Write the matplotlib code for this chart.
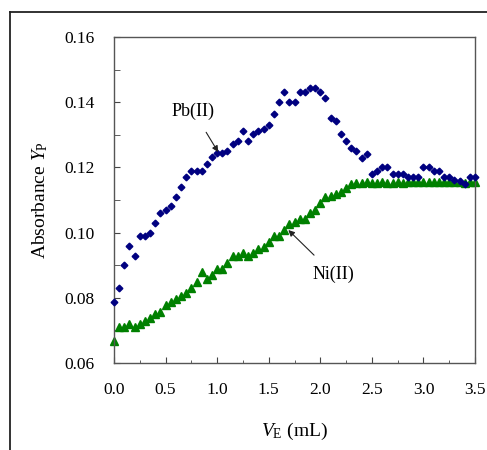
import matplotlib
matplotlib.use('Agg')
import numpy as np
import matplotlib.pyplot as plt
from matplotlib.lines import Line2D
from matplotlib.ticker import MultipleLocator, FormatStrFormatter

plt.rcParams['font.family'] = ['Liberation Serif', 'DejaVu Serif']
plt.rcParams['mathtext.fontset'] = 'custom'
plt.rcParams['mathtext.it'] = 'Liberation Serif:italic'
plt.rcParams['mathtext.rm'] = 'Liberation Serif'

# titrant volume, every 0.05 mL
ve = np.round(np.arange(71) * 0.05, 2)

pb = [0.0788, 0.0831, 0.0901, 0.0959, 0.0929, 0.0991, 0.0991, 0.1000, 0.1029, 0.1059,
      0.1069, 0.1082, 0.1110, 0.1141, 0.1172, 0.1189, 0.1189, 0.1189, 0.1210, 0.1231,
      0.1243, 0.1243, 0.1251, 0.1272, 0.1281, 0.1313, 0.1281, 0.1302, 0.1313, 0.1318,
      0.1330, 0.1363, 0.1402, 0.1432, 0.1402, 0.1402, 0.1432, 0.1432, 0.1443, 0.1443,
      0.1432, 0.1412, 0.1351, 0.1343, 0.1302, 0.1281, 0.1260, 0.1251, 0.1230, 0.1241,
      0.1180, 0.1189, 0.1202, 0.1202, 0.1180, 0.1180, 0.1180, 0.1172, 0.1172, 0.1172,
      0.1202, 0.1202, 0.1190, 0.1190, 0.1172, 0.1172, 0.1162, 0.1158, 0.1149, 0.1172,
      0.1172]

ni = [0.0667, 0.0711, 0.0711, 0.0719, 0.0711, 0.0719, 0.0730, 0.0739, 0.0749, 0.0757,
      0.0778, 0.0788, 0.0796, 0.0806, 0.0816, 0.0829, 0.0849, 0.0878, 0.0858, 0.0870,
      0.0887, 0.0887, 0.0908, 0.0928, 0.0928, 0.0938, 0.0928, 0.0938, 0.0949, 0.0957,
      0.0970, 0.0990, 0.0990, 0.1008, 0.1026, 0.1033, 0.1041, 0.1041, 0.1059, 0.1069,
      0.1090, 0.1108, 0.1112, 0.1118, 0.1125, 0.1136, 0.1149, 0.1151, 0.1151, 0.1156,
      0.1151, 0.1151, 0.1156, 0.1151, 0.1151, 0.1156, 0.1151, 0.1156, 0.1156, 0.1156,
      0.1156, 0.1156, 0.1156, 0.1156, 0.1156, 0.1156, 0.1156, 0.1156, 0.1151, 0.1156,
      0.1156]

fig = plt.figure(figsize=(4.87, 4.5), dpi=100)
ax = fig.add_axes([0.2341, 0.1933, 0.7413, 0.7244])

ax.plot(ve, pb, ls='none', marker='D', ms=3.4, color='#000080', zorder=3, clip_on=False)
ax.plot(ve, ni, ls='none', marker='^', ms=5.8, color='#008000', zorder=2, clip_on=False)

ax.set_xlim(0, 3.5)
ax.set_ylim(0.06, 0.16)
ax.xaxis.set_major_locator(MultipleLocator(0.5))
ax.xaxis.set_minor_locator(MultipleLocator(0.25))
ax.yaxis.set_major_locator(MultipleLocator(0.02))
ax.yaxis.set_minor_locator(MultipleLocator(0.01))
ax.xaxis.set_major_formatter(FormatStrFormatter('%.1f'))
ax.yaxis.set_major_formatter(FormatStrFormatter('%.2f'))
ax.tick_params(which='both', direction='in', top=False, right=False,
               labelsize=12.5, color='#444444')
ax.tick_params(which='major', length=4, pad=14)
ax.tick_params(which='minor', length=2.5)
ax.tick_params(axis='y', which='minor', length=4)
for s in ax.spines.values():
    s.set_color('#555555')
    s.set_linewidth(1.0)

ax.set_xlabel(r'$V_{\rm E}$ (mL)', fontsize=14, labelpad=16)
ax.set_ylabel(r'Absorbance $Y_{\rm P}$', fontsize=14, labelpad=10)

ax.annotate('Pb(II)', xy=(1.01, 0.1247), xytext=(0.77, 0.1372),
            fontsize=13, ha='center', va='center',
            arrowprops=dict(arrowstyle='-|>', color='#222222', lw=0.8,
                            mutation_scale=9, shrinkA=8, shrinkB=0))
ax.annotate('Ni(II)', xy=(1.69, 0.1008), xytext=(2.13, 0.0872),
            fontsize=13, ha='center', va='center',
            arrowprops=dict(arrowstyle='-|>', color='#222222', lw=0.8,
                            mutation_scale=9, shrinkA=8, shrinkB=0))

# outer frame (top and left edges of the figure box)
fig.add_artist(Line2D([10 / 487, 1.0], [1 - 12 / 450, 1 - 12 / 450],
                      transform=fig.transFigure, color='#222222', lw=1.3))
fig.add_artist(Line2D([10 / 487, 10 / 487], [0.0, 1 - 12 / 450],
                      transform=fig.transFigure, color='#222222', lw=1.3))

fig.savefig('out.png', dpi=100)
